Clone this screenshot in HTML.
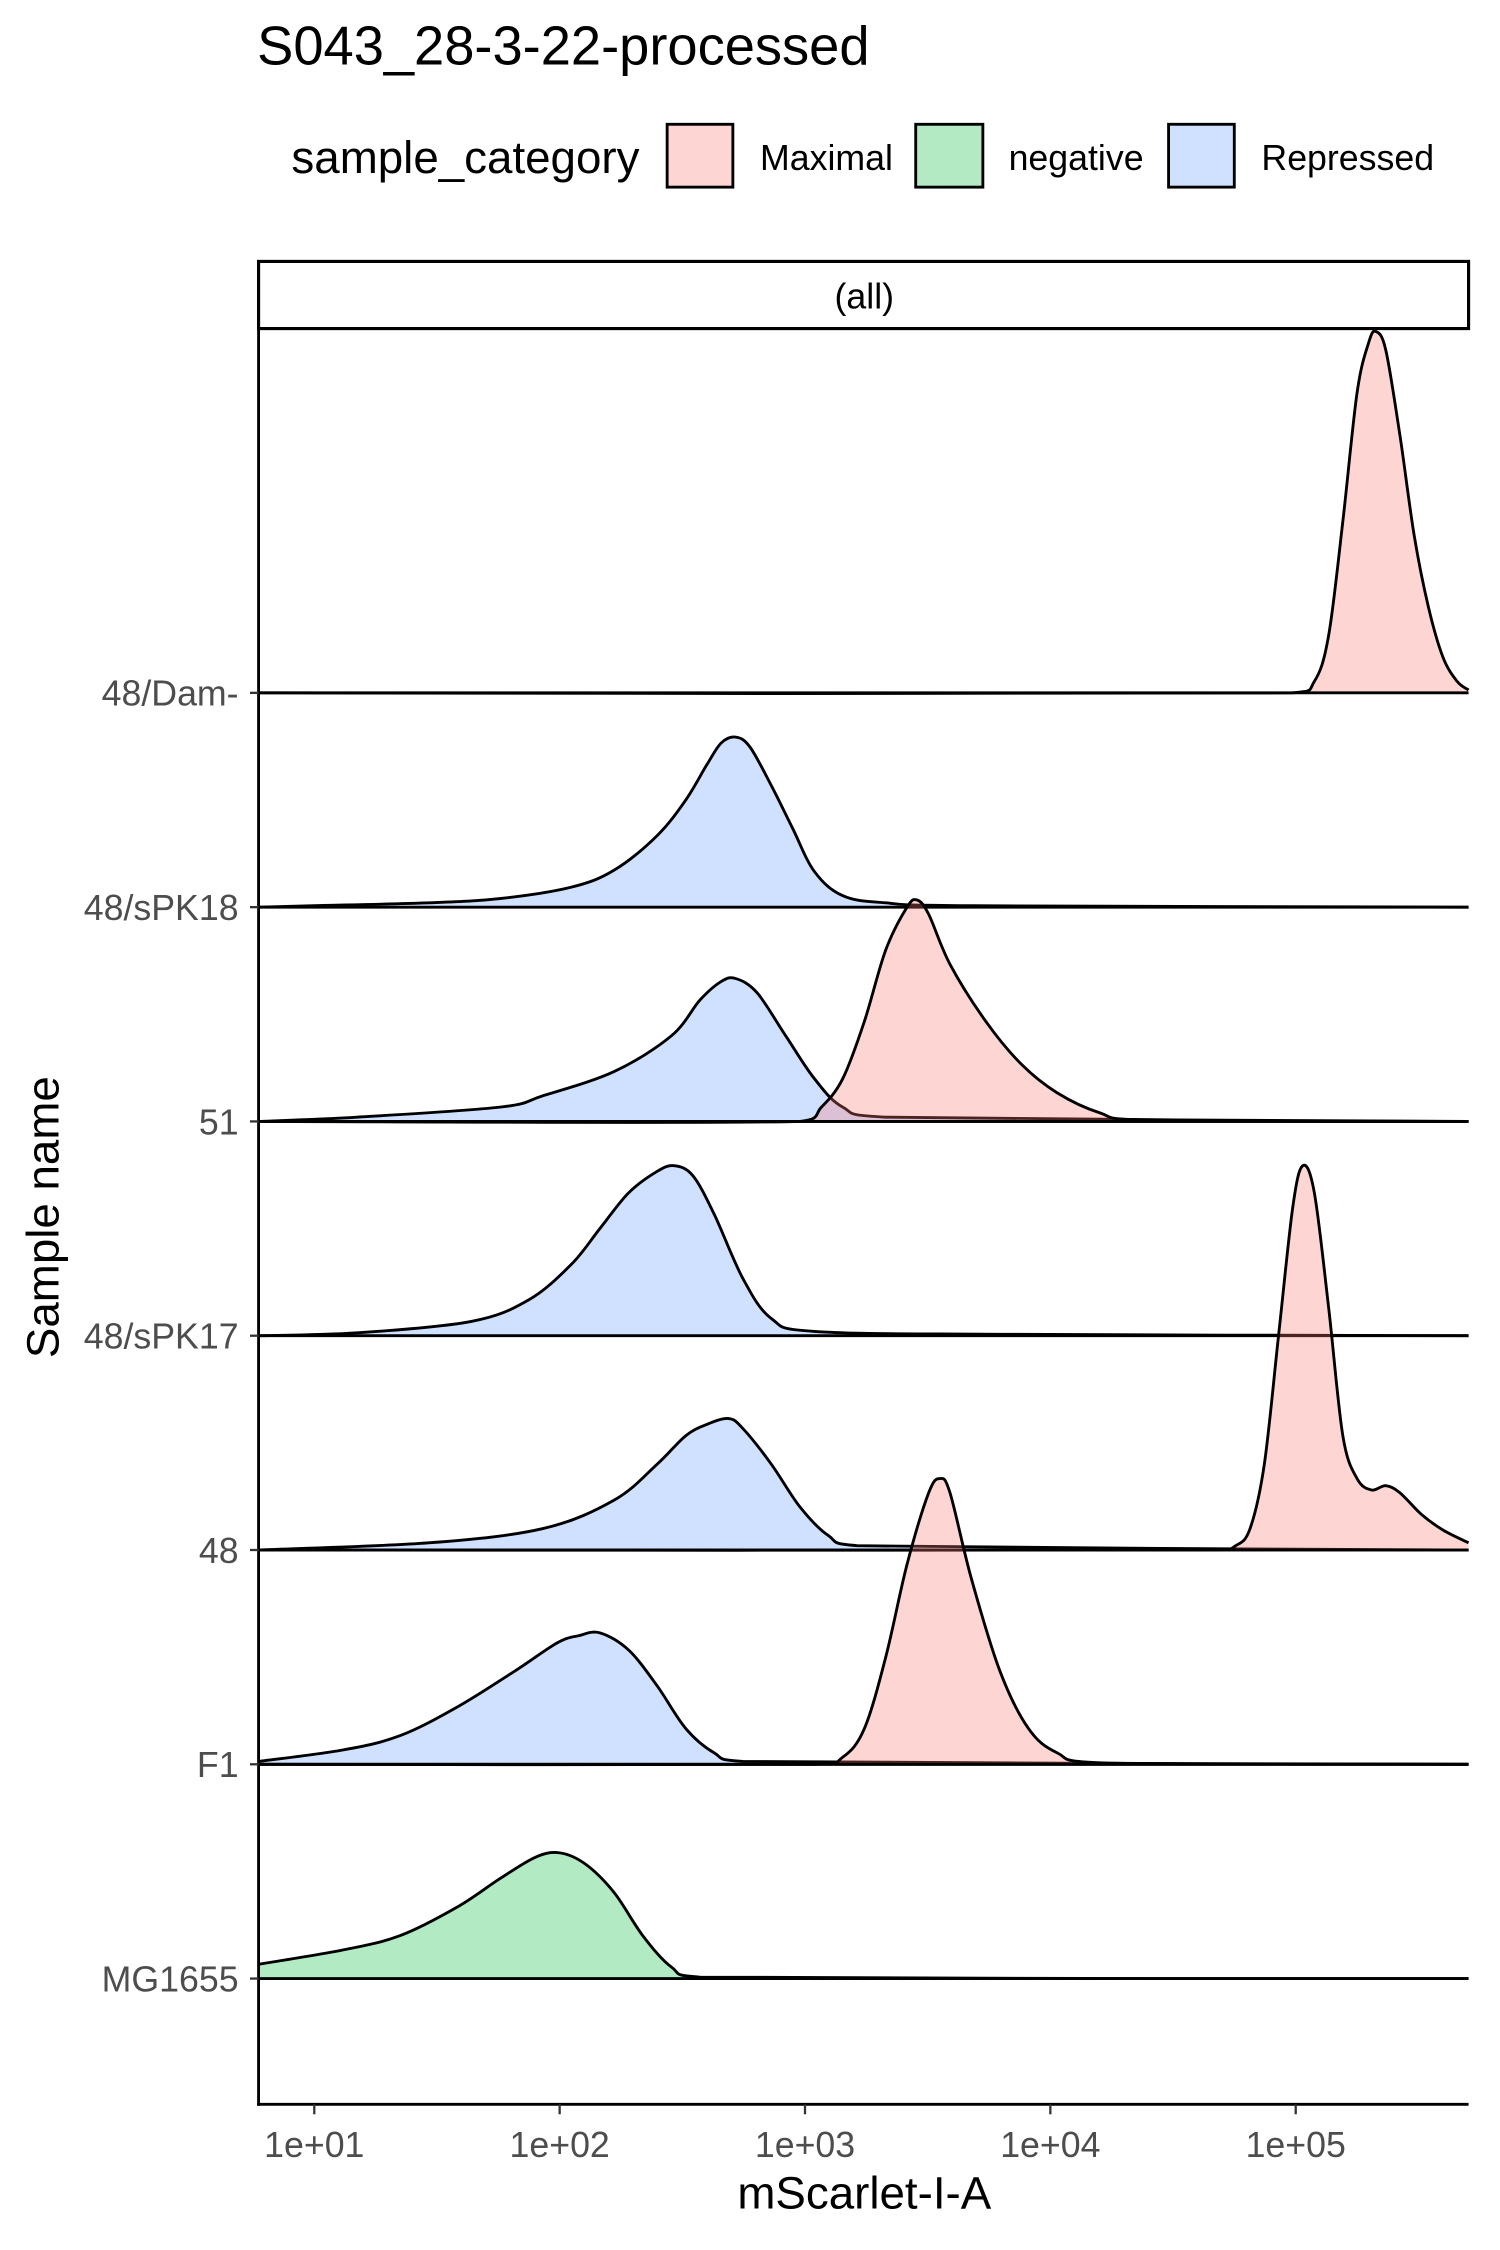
<!DOCTYPE html>
<html><head><meta charset="utf-8"><style>
html,body{margin:0;padding:0;background:#fff;}
svg{display:block;}
text{font-family:"Liberation Sans",Arial,sans-serif;}
</style></head><body>
<svg id="chart" width="1500" height="2250" viewBox="0 0 1050 1575" preserveAspectRatio="none" xmlns="http://www.w3.org/2000/svg">
<rect x="0" y="0" width="1050" height="1575" fill="#fff"/>
<text x="180" y="45" font-size="38">S043_28-3-22-processed</text>
<g>
<text x="204" y="121" font-size="32">sample_category</text>
<rect x="467" y="87" width="46" height="44" fill="#fdd6d3" stroke="#000" stroke-width="2"/>
<text x="532" y="119" font-size="25">Maximal</text>
<rect x="641" y="87" width="47" height="44" fill="#b3eac3" stroke="#000" stroke-width="2"/>
<text x="706" y="119" font-size="25">negative</text>
<rect x="818" y="87" width="46" height="44" fill="#d0e1ff" stroke="#000" stroke-width="2"/>
<text x="883" y="119" font-size="25">Repressed</text>
</g>
<rect x="181" y="183" width="847" height="47" fill="#fff" stroke="#000" stroke-width="2.2"/>
<text x="605" y="216" font-size="25" text-anchor="middle">(all)</text>
<g id="ridges"></g>
<line x1="181" y1="230" x2="181" y2="1474" stroke="#000" stroke-width="2"/>
<line x1="180" y1="1473" x2="1028" y2="1473" stroke="#000" stroke-width="2"/>
<g id="yaxis"></g>
<g id="xaxis"></g>
<text x="605" y="1546" font-size="32" text-anchor="middle">mScarlet-I-A</text>
<text transform="translate(41,852) rotate(-90)" font-size="32" text-anchor="middle">Sample name</text>
</svg>
<script>
const categories = ["48/Dam-","48/sPK18","51","48/sPK17","48","F1","MG1655"];
const xTickValues = [1,2,3,4,5];
const xTickLabels = ["1e+01","1e+02","1e+03","1e+04","1e+05"];
// series: log10(mScarlet-I-A) and density height
const damMaxX = [0.773,4.988,5.076,5.134,5.192,5.250,5.297,5.326,5.367,5.425,5.483,5.541,5.600,5.658,5.705];
const damMaxY = [0,0,0.08,0.40,1.20,2.10,2.45,2.53,2.40,1.80,1.10,0.60,0.25,0.08,0.02];
const spk18RepX = [0.773,1.0,1.466,1.757,2.048,2.223,2.397,2.514,2.601,2.659,2.718,2.776,2.863,2.950,3.038,3.154,3.329,3.678,5.705];
const spk18RepY = [0,0.01,0.03,0.06,0.14,0.26,0.50,0.75,1.00,1.15,1.19,1.12,0.85,0.55,0.25,0.08,0.03,0.01,0];
const s51RepX = [0.773,1.175,1.757,1.932,2.223,2.456,2.572,2.659,2.718,2.805,2.921,3.038,3.154,3.329,5.705];
const s51RepY = [0,0.03,0.10,0.18,0.35,0.60,0.85,0.98,1.00,0.90,0.60,0.30,0.10,0.03,0];
const s51MaxX = [0.773,2.980,3.067,3.154,3.242,3.329,3.416,3.457,3.504,3.591,3.737,3.882,4.028,4.202,4.377,5.705];
const s51MaxY = [0,0,0.10,0.30,0.70,1.20,1.50,1.55,1.45,1.10,0.70,0.40,0.20,0.06,0.01,0];
const spk17RepX = [0.773,1.175,1.640,1.873,2.048,2.164,2.281,2.397,2.467,2.543,2.630,2.747,2.863,3.038,3.795,5.705];
const spk17RepY = [0,0.02,0.10,0.25,0.50,0.75,1.00,1.15,1.19,1.12,0.85,0.40,0.12,0.03,0.01,0];
const s48RepX = [0.773,1.466,1.932,2.223,2.397,2.514,2.601,2.689,2.747,2.863,2.980,3.096,3.213,5.705];
const s48RepY = [0,0.05,0.15,0.35,0.60,0.80,0.88,0.92,0.85,0.60,0.30,0.10,0.03,0];
const s48MaxX = [0.773,4.668,4.755,4.814,4.872,4.930,4.988,5.029,5.076,5.134,5.192,5.250,5.309,5.367,5.425,5.512,5.600,5.705];
const s48MaxY = [0,0,0.03,0.15,0.60,1.50,2.40,2.69,2.50,1.70,0.80,0.50,0.42,0.45,0.40,0.25,0.14,0.05];
const f1RepX = [0.773,1.116,1.349,1.582,1.815,1.990,2.077,2.164,2.281,2.397,2.514,2.630,2.747,5.705];
const f1RepY = [0.02,0.10,0.20,0.40,0.65,0.85,0.90,0.92,0.80,0.55,0.25,0.08,0.02,0];
const f1MaxX = [0.773,3.038,3.154,3.242,3.329,3.416,3.504,3.550,3.591,3.678,3.795,3.911,4.028,4.202,5.705];
const f1MaxY = [0,0,0.05,0.25,0.75,1.40,1.90,2.00,1.90,1.30,0.65,0.25,0.08,0.01,0];
const mgNegX = [0.773,1.116,1.349,1.582,1.757,1.902,2.001,2.106,2.223,2.339,2.456,2.572,5.705];
const mgNegY = [0.10,0.20,0.30,0.50,0.70,0.85,0.88,0.80,0.60,0.30,0.08,0.01,0];

const series = [
 {cat:0, x:damMaxX, y:damMaxY, fill:"#F8766D", name:"ridge-48-dam-maximal"},
 {cat:1, x:spk18RepX, y:spk18RepY, fill:"#619CFF", name:"ridge-48-spk18-repressed"},
 {cat:2, x:s51RepX, y:s51RepY, fill:"#619CFF", name:"ridge-51-repressed"},
 {cat:2, x:s51MaxX, y:s51MaxY, fill:"#F8766D", name:"ridge-51-maximal"},
 {cat:3, x:spk17RepX, y:spk17RepY, fill:"#619CFF", name:"ridge-48-spk17-repressed"},
 {cat:4, x:s48RepX, y:s48RepY, fill:"#619CFF", name:"ridge-48-repressed"},
 {cat:4, x:s48MaxX, y:s48MaxY, fill:"#F8766D", name:"ridge-48-maximal"},
 {cat:5, x:f1RepX, y:f1RepY, fill:"#619CFF", name:"ridge-f1-repressed"},
 {cat:5, x:f1MaxX, y:f1MaxY, fill:"#F8766D", name:"ridge-f1-maximal"},
 {cat:6, x:mgNegX, y:mgNegY, fill:"#00BA38", name:"ridge-mg1655-negative"}
];
const NS="http://www.w3.org/2000/svg";
function xs(l){ return 220 + (l-1)*171.75; }
function baseY(i){ return 485 + i*150; }
function hs(d){ return d*100; }
function smoothPath(pts){
  let d="M"+pts[0][0].toFixed(2)+","+pts[0][1].toFixed(2);
  for(let i=0;i<pts.length-1;i++){
    const p0=pts[i-1]||pts[i], p1=pts[i], p2=pts[i+1], p3=pts[i+2]||p2;
    let c1=[p1[0]+(p2[0]-p0[0])/6, p1[1]+(p2[1]-p0[1])/6];
    let c2=[p2[0]-(p3[0]-p1[0])/6, p2[1]-(p3[1]-p1[1])/6];
    c1[0]=Math.max(p1[0],Math.min(p2[0],c1[0])); c2[0]=Math.max(p1[0],Math.min(p2[0],c2[0]));
    d+=" C"+c1[0].toFixed(2)+","+c1[1].toFixed(2)+" "+c2[0].toFixed(2)+","+c2[1].toFixed(2)+" "+p2[0].toFixed(2)+","+p2[1].toFixed(2);
  }
  return d;
}
const g=document.getElementById("ridges");
series.forEach(s=>{
  const b=baseY(s.cat);
  const pts=s.x.map((v,i)=>[Math.max(181,Math.min(1028,xs(v))), Math.min(b, b-hs(s.y[i]))]);
  const line=smoothPath(pts);
  const last=pts[pts.length-1], first=pts[0];
  const fp=document.createElementNS(NS,"path");
  fp.setAttribute("d", line+" L"+last[0]+","+b+" L"+first[0]+","+b+" Z");
  fp.setAttribute("fill", s.fill); fp.setAttribute("fill-opacity","0.3");
  
  
  g.appendChild(fp);
  const bl=document.createElementNS(NS,"line");
  bl.setAttribute("x1",181); bl.setAttribute("x2",1028); bl.setAttribute("y1",b); bl.setAttribute("y2",b);
  bl.setAttribute("stroke","#000"); bl.setAttribute("stroke-width","2");
  
  
  g.appendChild(bl);
  const lp=document.createElementNS(NS,"path");
  lp.setAttribute("d", line); lp.setAttribute("fill","none");
  lp.setAttribute("stroke","#000"); lp.setAttribute("stroke-width","2");
  
  
  g.appendChild(lp);
});
const ya=document.getElementById("yaxis");
categories.forEach((c,i)=>{
  const y=baseY(i);
  const t=document.createElementNS(NS,"line");
  t.setAttribute("x1",175); t.setAttribute("x2",181); t.setAttribute("y1",y); t.setAttribute("y2",y);
  t.setAttribute("stroke","#333"); t.setAttribute("stroke-width","1.6");
  
  
  ya.appendChild(t);
  const tx=document.createElementNS(NS,"text");
  tx.setAttribute("x",167); tx.setAttribute("y",y+9); tx.setAttribute("font-size","25");
  tx.setAttribute("text-anchor","end"); tx.setAttribute("fill","#4d4d4d");
  tx.textContent=c;
  
  
  ya.appendChild(tx);
});
const xa=document.getElementById("xaxis");
xTickValues.forEach((v,i)=>{
  const x=xs(v);
  const t=document.createElementNS(NS,"line");
  t.setAttribute("x1",x); t.setAttribute("x2",x); t.setAttribute("y1",1473); t.setAttribute("y2",1480);
  t.setAttribute("stroke","#333"); t.setAttribute("stroke-width","1.6");
  
  
  xa.appendChild(t);
  const tx=document.createElementNS(NS,"text");
  tx.setAttribute("x",x); tx.setAttribute("y",1510); tx.setAttribute("font-size","25");
  tx.setAttribute("text-anchor","middle"); tx.setAttribute("fill","#4d4d4d");
  tx.textContent=xTickLabels[i];
  
  
  xa.appendChild(tx);
});
</script>
</body></html>
